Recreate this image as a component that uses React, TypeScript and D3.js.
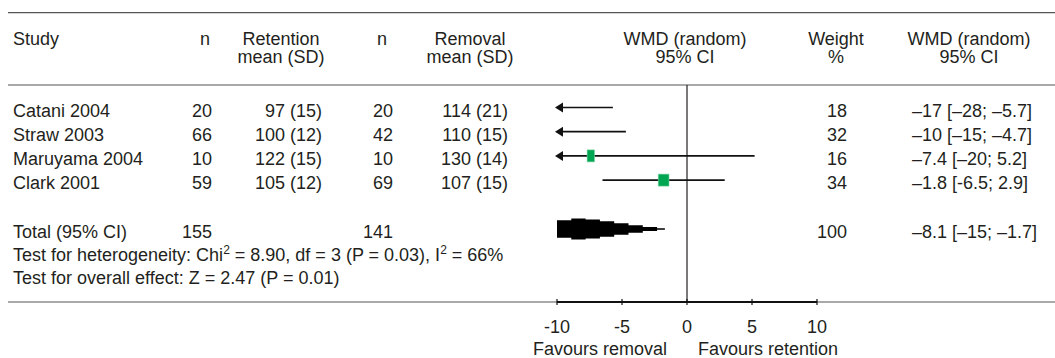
import React from "react";
import * as d3 from "d3";

const studies = ["Catani 2004", "Straw 2003", "Maruyama 2004", "Clark 2001"];
const nRetention = ["20", "66", "10", "59"];
const retentionMean = ["97 (15)", "100 (12)", "122 (15)", "105 (12)"];
const nRemoval = ["20", "42", "10", "69"];
const removalMean = ["114 (21)", "110 (15)", "130 (14)", "107 (15)"];
const wmd = [-17, -10, -7.4, -1.8];
const ciLow = [-28, -15, -20, -6.5];
const ciHigh = [-5.7, -4.7, 5.2, 2.9];
const weights = ["18", "32", "16", "34"];
const ciLabels = ["–17 [–28; –5.7]", "–10 [–15; –4.7]", "–7.4 [–20; 5.2]", "–1.8 [-6.5; 2.9]"];

const totalLabel = "Total (95% CI)";
const totalN = ["155", "141"];
const totalEst = -8.1;
const totalLow = -15;
const totalHigh = -1.7;
const totalWeight = "100";
const totalCi = "–8.1 [–15; –1.7]";

const xTicks = [-10, -5, 0, 5, 10];
const xDomain = [-10, 10];

const FONT = "'Liberation Sans', Arial, sans-serif";
const INK = "#231f20";
const GREEN = "#00a651";

export default function App() {
  const W = 1055, H = 358;
  const x = d3.scaleLinear().domain(xDomain).range([557, 817]);
  const rowY = d3.scaleLinear().domain([0, 1]).range([107.5, 131.7]);
  const textOff = 9;
  const totalY = 229;
  const axisY = 302;

  // stepped diamond for the pooled estimate, clipped at the left edge of the axis
  const halfMax = 11;
  const half = (v: number) =>
    v <= totalEst
      ? halfMax * (v - totalLow) / (totalEst - totalLow)
      : halfMax * (totalHigh - v) / (totalHigh - totalEst);
  const start = Math.max(totalLow, xDomain[0]);
  const bounds = d3.range(start, totalHigh, 1.1).concat([totalHigh]);
  const top: [number, number][] = [];
  const bot: [number, number][] = [];
  for (let i = 0; i < bounds.length - 1; i++) {
    const a = bounds[i], b = bounds[i + 1];
    const h = Math.max(0.8, half((a + b) / 2));
    top.push([x(a), totalY - h], [x(b), totalY - h]);
    bot.push([x(a), totalY + h], [x(b), totalY + h]);
  }
  const diamond = top.concat(bot.reverse()).map(p => p.join(",")).join(" ");

  const txt = { fontFamily: FONT, fontSize: 18, fill: INK } as const;

  return (
    <svg width={W} height={H} style={{ position: "absolute", left: 0, top: 0, background: "#fff" }}>
      {/* rules */}
      <line x1={8} x2={W} y1={12.7} y2={12.7} stroke="#555" strokeWidth={1.2} />
      <line x1={8} x2={W} y1={85} y2={85} stroke="#555" strokeWidth={1.2} />
      <line x1={8} x2={W} y1={axisY} y2={axisY} stroke="#555" strokeWidth={1.2} />

      {/* header */}
      <g {...txt}>
        <text x={13} y={44.5}>Study</text>
        <text x={205} y={44.5} textAnchor="middle">n</text>
        <text x={281} y={44.5} textAnchor="middle">Retention</text>
        <text x={281} y={62.5} textAnchor="middle">mean (SD)</text>
        <text x={382} y={44.5} textAnchor="middle">n</text>
        <text x={470} y={44.5} textAnchor="middle">Removal</text>
        <text x={470} y={62.5} textAnchor="middle">mean (SD)</text>
        <text x={685} y={44.5} textAnchor="middle">WMD (random)</text>
        <text x={685} y={62.5} textAnchor="middle">95% CI</text>
        <text x={836} y={44.5} textAnchor="middle">Weight</text>
        <text x={836} y={62.5} textAnchor="middle">%</text>
        <text x={969} y={44.5} textAnchor="middle">WMD (random)</text>
        <text x={969} y={62.5} textAnchor="middle">95% CI</text>
      </g>

      {/* zero line */}
      <line x1={x(0)} x2={x(0)} y1={85} y2={axisY} stroke={INK} strokeWidth={1.2} />

      {/* study rows */}
      {studies.map((s, i) => {
        const y = rowY(i);
        const lo = Math.max(ciLow[i], xDomain[0]);
        const hi = Math.min(ciHigh[i], xDomain[1]);
        const w = Math.sqrt(+weights[i]) * 1.85;
        const x0 = x(xDomain[0]);
        return (
          <g key={s}>
            <g {...txt}>
              <text x={13} y={y + textOff}>{s}</text>
              <text x={212} y={y + textOff} textAnchor="end">{nRetention[i]}</text>
              <text x={322} y={y + textOff} textAnchor="end">{retentionMean[i]}</text>
              <text x={393} y={y + textOff} textAnchor="end">{nRemoval[i]}</text>
              <text x={508} y={y + textOff} textAnchor="end">{removalMean[i]}</text>
              <text x={847} y={y + textOff} textAnchor="end">{weights[i]}</text>
              <text x={912} y={y + textOff}>{ciLabels[i]}</text>
            </g>
            <line x1={x(lo) + (ciLow[i] < xDomain[0] ? 4 : 0)} x2={x(hi)} y1={y} y2={y} stroke="#111" strokeWidth={1.7} />
            {ciLow[i] < xDomain[0] && (
              <polygon points={`${x0 - 2},${y} ${x0 + 6},${y - 5} ${x0 + 6},${y + 5}`} fill="#111" />
            )}
            {wmd[i] > xDomain[0] && (
              <rect x={x(wmd[i]) - w / 2} y={y - 6} width={w} height={12} fill={GREEN} stroke="#7fd3a6" strokeWidth={0.6} />
            )}
          </g>
        );
      })}

      {/* total */}
      <g {...txt}>
        <text x={13} y={totalY + textOff}>{totalLabel}</text>
        <text x={212} y={totalY + textOff} textAnchor="end">{totalN[0]}</text>
        <text x={393} y={totalY + textOff} textAnchor="end">{totalN[1]}</text>
        <text x={847} y={totalY + textOff} textAnchor="end">{totalWeight}</text>
        <text x={912} y={totalY + textOff}>{totalCi}</text>
        <text x={13} y={260.5}>
          Test for heterogeneity: Chi<tspan fontSize={12} dy={-7}>2</tspan>
          <tspan dy={7}> = 8.90, df = 3 (P = 0.03), I</tspan>
          <tspan fontSize={12} dy={-7}>2</tspan>
          <tspan dy={7}> = 66%</tspan>
        </text>
        <text x={13} y={283.5}>Test for overall effect: Z = 2.47 (P = 0.01)</text>
      </g>
      <polygon points={diamond} fill="#000" />

      {/* axis */}
      <line x1={x(xDomain[0])} x2={x(xDomain[1])} y1={axisY} y2={axisY} stroke="#111" strokeWidth={2} />
      {xTicks.map(t => (
        <g key={t}>
          <line x1={x(t)} x2={x(t)} y1={axisY - 3} y2={axisY + 3} stroke="#111" strokeWidth={1.2} />
          <text {...txt} x={x(t)} y={333} textAnchor="middle">{String(t)}</text>
        </g>
      ))}
      <text {...txt} x={x(0) - 20} y={355} textAnchor="end">Favours removal</text>
      <text {...txt} x={x(0) + 11} y={355}>Favours retention</text>
    </svg>
  );
}
